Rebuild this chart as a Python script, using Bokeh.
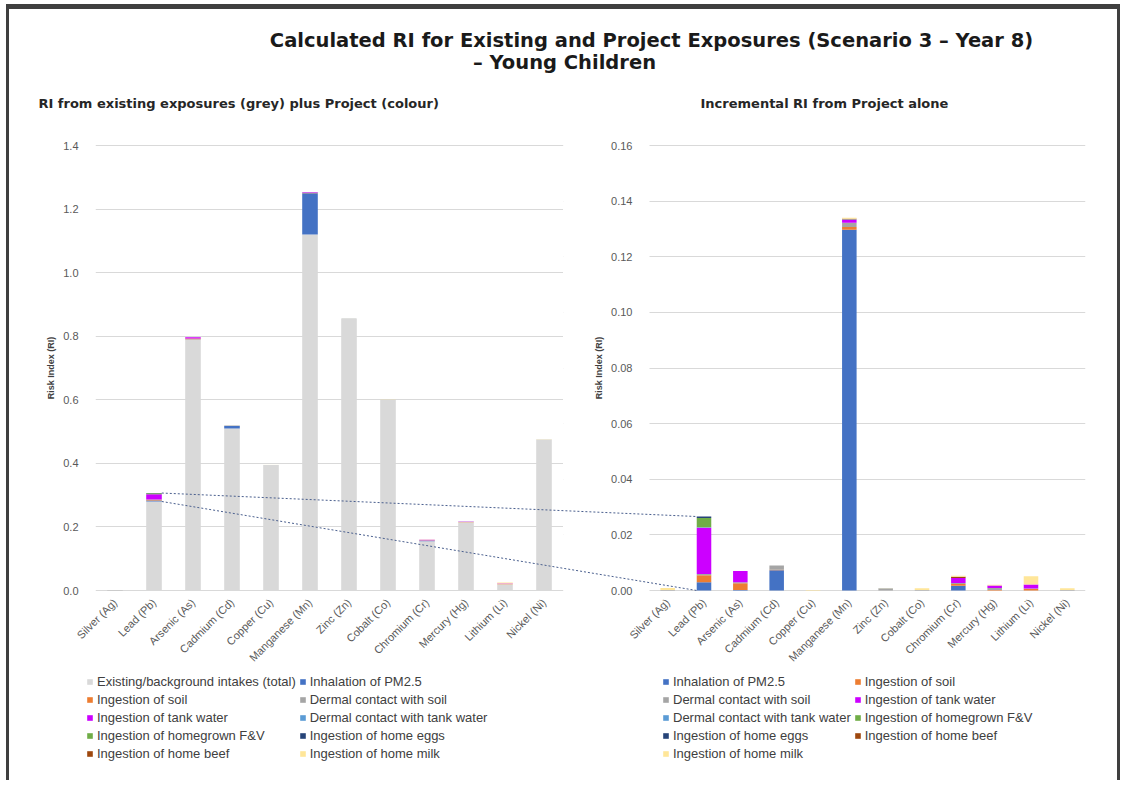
import math
from bokeh.plotting import figure
from bokeh.models import (ColumnDataSource, Range1d, FactorRange, FixedTicker,
                          NumeralTickFormatter, Legend, LegendItem, BoxAnnotation)
from bokeh.layouts import column, row
from bokeh.embed import file_html
from bokeh.resources import INLINE
from bokeh.core.properties import value

# ---------------- data ----------------
metals = ["Silver (Ag)", "Lead (Pb)", "Arsenic (As)", "Cadmium (Cd)", "Copper (Cu)",
          "Manganese (Mn)", "Zinc (Zn)", "Cobalt (Co)", "Chromium (Cr)", "Mercury (Hg)",
          "Lithium (Li)", "Nickel (Ni)"]

existing = [0.001, 0.280, 0.790, 0.510, 0.395, 1.120, 0.855, 0.600, 0.155, 0.215, 0.020, 0.475]

pm25         = [0.0,    0.0030, 0.0002, 0.0073, 0.0,    0.1297, 0.0,    0.0,    0.0017, 0.0,    0.0,    0.0]
soil         = [0.0,    0.0025, 0.0024, 0.0002, 0.0,    0.0010, 0.0,    0.0,    0.0006, 0.0002, 0.0005, 0.0]
dermal_soil  = [0.0002, 0.0004, 0.0004, 0.0015, 0.0,    0.0015, 0.0006, 0.0002, 0.0004, 0.0007, 0.0002, 0.0002]
tank_water   = [0.0,    0.0167, 0.0040, 0.0,    0.0,    0.0012, 0.0,    0.0,    0.0018, 0.0009, 0.0015, 0.0]
dermal_tank  = [0.0,    0.0001, 0.0,    0.0,    0.0,    0.0,    0.0,    0.0,    0.0,    0.0,    0.0,    0.0]
homegrown_fv = [0.0,    0.0034, 0.0,    0.0,    0.0,    0.0002, 0.0,    0.0,    0.0,    0.0,    0.0,    0.0]
home_eggs    = [0.0,    0.0005, 0.0,    0.0,    0.0,    0.0,    0.0001, 0.0,    0.0,    0.0,    0.0,    0.0]
home_beef    = [0.0,    0.0,    0.0,    0.0,    0.0,    0.0001, 0.0,    0.0,    0.0004, 0.0,    0.0,    0.0]
home_milk    = [0.0007, 0.0,    0.0,    0.0,    0.0002, 0.0003, 0.0001, 0.0006, 0.0004, 0.0003, 0.0029, 0.0006]

series_names = ["Inhalation of PM2.5", "Ingestion of soil", "Dermal contact with soil",
                "Ingestion of tank water", "Dermal contact with tank water",
                "Ingestion of homegrown F&V", "Ingestion of home eggs",
                "Ingestion of home beef", "Ingestion of home milk"]
series_values = [pm25, soil, dermal_soil, tank_water, dermal_tank,
                 homegrown_fv, home_eggs, home_beef, home_milk]
series_colors = ["#4472C4", "#ED7D31", "#A5A5A5", "#CC00FF", "#5B9BD5",
                 "#70AD47", "#264478", "#9E480E", "#FFE699"]
existing_name = "Existing/background intakes (total)"
existing_color = "#D9D9D9"

left_ticks = [0.0, 0.2, 0.4, 0.6, 0.8, 1.0, 1.2, 1.4]
right_ticks = [0.00, 0.02, 0.04, 0.06, 0.08, 0.10, 0.12, 0.14, 0.16]
left_max, right_max = 1.4, 0.16

title_line1 = "Calculated RI for Existing and Project Exposures (Scenario 3 \u2013 Year 8)"
title_line2 = "\u2013 Young Children"
left_subtitle = "RI from existing exposures (grey) plus Project (colour)"
right_subtitle = "Incremental RI from Project alone"
y_label = "Risk Index (RI)"

# ---------------- layout constants (pixels) ----------------
FONT = "Liberation Sans"
TITLE_FONT = "DejaVu Sans"
FRAME_H = 445            # pixel height of the 0..max data span
PAD = 10                 # extra frame above/below the data span
TOP = 15
BOTTOM = 72
L_BORDER, L_FRAME_W = 86, 468
R_GAP, R_FRAME_W, R_RIGHT = 86, 436, 32
HEADER_H = 111
LEG_H = 108
LEG_ROW_H, LEG_SPACING = 15, 3
LEFT_W = L_BORDER + L_FRAME_W
RIGHT_W = R_GAP + R_FRAME_W + R_RIGHT
TOTAL_W = LEFT_W + RIGHT_W
BAR_W = 0.4
N = len(metals)
LINK_COLOR = "#4A5F8E"
L_BAND = L_FRAME_W / N
R_BAND = R_FRAME_W / N
R_START = -0.5 - R_GAP / R_BAND          # right x-range start (room for its y-axis)
R_END = N - 0.5
R_CANVAS_X = LEFT_W

keys = ["c%d" % k for k in range(len(series_values))]
data = {"metal": metals, "pos": list(range(N)), "existing": existing}
for k, vals in zip(keys, series_values):
    data[k] = vals
src = ColumnDataSource(data)


def padded_range(top):
    d = PAD / FRAME_H * top
    return Range1d(-d, top + d)


def style_axes(p, ticks, fmt):
    p.xgrid.visible = False
    p.ygrid.grid_line_color = "#D9D9D9"
    p.ygrid.grid_line_width = 1
    tk = FixedTicker(ticks=ticks)
    p.yaxis.ticker = tk
    p.ygrid.ticker = tk
    p.yaxis.formatter = NumeralTickFormatter(format=fmt)
    p.yaxis.axis_line_color = None
    p.yaxis.major_tick_line_color = None
    p.yaxis.minor_tick_line_color = None
    p.yaxis.major_label_text_font = FONT
    p.yaxis.major_label_text_font_size = "11px"
    p.yaxis.major_label_text_color = "#595959"
    p.yaxis.major_label_standoff = 11
    p.yaxis.axis_label = y_label
    p.yaxis.axis_label_text_font = FONT
    p.yaxis.axis_label_text_font_size = "9px"
    p.yaxis.axis_label_text_font_style = "bold"
    p.yaxis.axis_label_text_color = "#404040"
    p.yaxis.axis_label_standoff = 4
    p.xaxis.axis_line_color = None
    p.xaxis.major_tick_line_color = None
    p.xaxis.minor_tick_line_color = None
    p.xaxis.major_label_orientation = math.pi / 4
    p.xaxis.major_label_text_font = FONT
    p.xaxis.major_label_text_font_size = "11px"
    p.xaxis.major_label_text_color = "#595959"
    p.xaxis.major_label_standoff = 4 - PAD
    p.outline_line_color = None


def legend_figure(names, colors, width, x_off):
    f = figure(width=width, height=LEG_H,
               x_range=Range1d(0, 1), y_range=Range1d(0, 1), min_border=0,
               toolbar_location=None, output_backend="svg",
               x_axis_location=None, y_axis_location=None, outline_line_color=None)
    f.grid.visible = False
    items = []
    for n, c in zip(names, colors):
        # swatch renderer: its single bar lies outside the visible range
        r = f.vbar(x=[5], top=[0.5], width=BAR_W, fill_color=c, line_color=None)
        items.append(LegendItem(label=n, renderers=[r]))
    rows = (len(items) + 1) // 2
    leg_h = rows * LEG_ROW_H + (rows - 1) * LEG_SPACING
    f.add_layout(Legend(items=items, orientation="horizontal", ncols=2,
                        location=(x_off, LEG_H - 2 - leg_h),
                        border_line_color=None, background_fill_alpha=0,
                        label_text_font=FONT, label_text_font_size="13px",
                        label_text_color="#404040", glyph_width=7, glyph_height=7,
                        label_standoff=4, spacing=LEG_SPACING, padding=0, margin=0,
                        label_height=LEG_ROW_H))
    return f


# ---------------- header (titles) ----------------
header = figure(width=TOTAL_W, height=HEADER_H, x_range=Range1d(0, TOTAL_W),
                y_range=Range1d(0, HEADER_H), min_border=0, toolbar_location=None,
                output_backend="svg", x_axis_location=None, y_axis_location=None,
                outline_line_color=None)
header.grid.visible = False
header.text(x=[642, 555], y=[80, 58], text=[title_line1, title_line2],
            text_font=value(TITLE_FONT), text_font_size=value("19.5px"), text_font_style="bold",
            text_align="center", text_baseline="middle", text_color="#1a1a1a")
header.text(x=[29, 691], y=[17, 17], text=[left_subtitle, right_subtitle],
            text_font=value(TITLE_FONT), text_font_size=value("13px"), text_font_style="bold",
            text_align="left", text_baseline="middle", text_color="#262626")

# ---------------- left chart ----------------
pl = figure(x_range=FactorRange(*metals), y_range=padded_range(left_max),
            frame_width=L_FRAME_W, frame_height=FRAME_H + 2 * PAD,
            min_border_left=L_BORDER, min_border_right=0,
            min_border_top=TOP, min_border_bottom=BOTTOM,
            toolbar_location=None, output_backend="svg")
rl = pl.vbar_stack(["existing"] + keys, x="metal", width=BAR_W, source=src,
                   fill_color=[existing_color] + series_colors, line_color=None)
style_axes(pl, left_ticks, "0.0")

# ---------------- right chart ----------------
pr = figure(x_range=Range1d(R_START, R_END), y_range=padded_range(right_max),
            frame_width=R_GAP + R_FRAME_W, frame_height=FRAME_H + 2 * PAD,
            min_border_left=0, min_border_right=R_RIGHT,
            min_border_top=TOP, min_border_bottom=BOTTOM,
            toolbar_location=None, output_backend="svg")
rr = pr.vbar_stack(keys, x="pos", width=BAR_W, source=src,
                   fill_color=series_colors, line_color=None)
style_axes(pr, right_ticks, "0.00")
pr.xaxis.ticker = FixedTicker(ticks=list(range(N)))
pr.xaxis.major_label_overrides = {k: m for k, m in enumerate(metals)}
pr.yaxis.fixed_location = -0.5
pr.add_layout(BoxAnnotation(right=-0.5, fill_color="white", fill_alpha=1.0,
                            line_color=None, level="glyph"))

# ---------------- connecting lines (Lead) ----------------
i = metals.index("Lead (Pb)")
proj_total = sum(v[i] for v in series_values)
left_top = existing[i] + proj_total
xl_edge = i + 0.5 + BAR_W / 2                       # left chart synthetic coordinate
xr_edge = i - BAR_W / 2                             # right chart coordinate
gl = L_BORDER + xl_edge * L_BAND                    # pixel (content) positions
gr = R_CANVAS_X + (xr_edge - R_START) * R_BAND
xr_in_left = (gr - L_BORDER) / L_BAND
xl_in_right = R_START + (gl - R_CANVAS_X) / R_BAND
links = [(left_top, proj_total), (existing[i], 0.0)]
for yl, yr in links:
    pl.segment(x0=[xl_edge], y0=[yl], x1=[xr_in_left], y1=[yr / right_max * left_max],
               line_color=LINK_COLOR, line_dash="2 2", line_width=1, level="overlay")
    pr.segment(x0=[xl_in_right], y0=[yl / left_max * right_max], x1=[xr_edge], y1=[yr],
               line_color=LINK_COLOR, line_dash="2 2", line_width=1, level="overlay")

# ---------------- legends ----------------
leg_left = legend_figure([existing_name] + series_names, [existing_color] + series_colors,
                         LEFT_W, 77)
leg_right = legend_figure(series_names, series_colors, RIGHT_W, 99)

root = column(header, row(pl, pr), row(leg_left, leg_right), margin=(4, 0, 0, 6),
              styles={"border-top": "5px solid #3f3f3f",
                      "border-left": "3px solid #3f3f3f",
                      "border-right": "3px solid #3f3f3f"})

open("out.html", "w").write(file_html(root, INLINE))
